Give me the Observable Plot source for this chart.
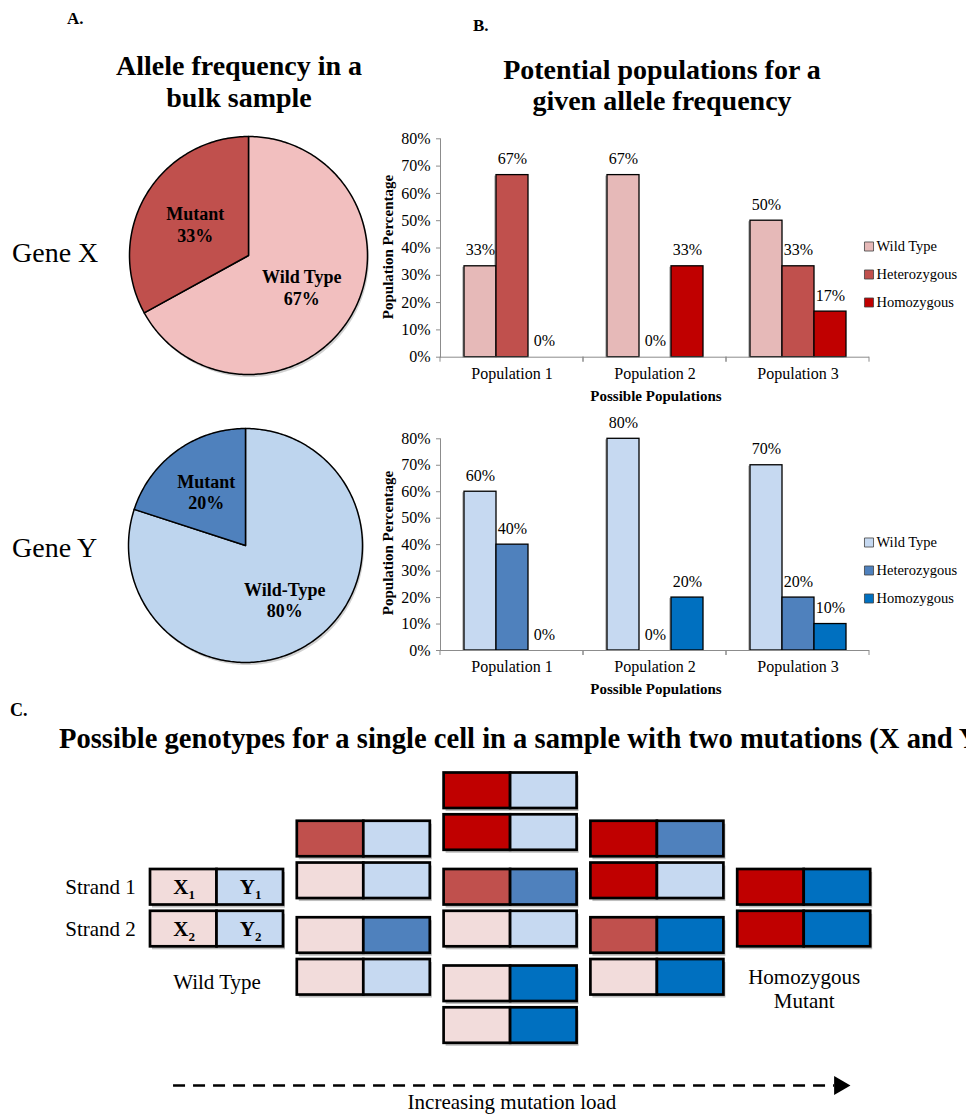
<!DOCTYPE html>
<html><head><meta charset="utf-8">
<script src="https://cdn.jsdelivr.net/npm/d3@7"></script>
<script src="https://cdn.jsdelivr.net/npm/@observablehq/plot@0.6"></script>
<style>
html,body{margin:0;padding:0;background:#fff;}
body{width:966px;height:1115px;position:relative;overflow:hidden;font-family:"Liberation Serif","Times New Roman",serif;color:#000;}
.t{position:absolute;white-space:nowrap;line-height:1;}
.box{position:absolute;}
svg text{fill:#000;}
</style></head><body>
<script>
// ---------- Data ----------
const pieXSlices = ["Wild Type", "Mutant"];
const pieXValues = [67, 33];
const pieXColors = ["#F2BFBF", "#C0504D"];
const pieYSlices = ["Wild-Type", "Mutant"];
const pieYValues = [80, 20];
const pieYColors = ["#BED5EE", "#4F81BD"];

const populations = ["Population 1", "Population 2", "Population 3"];
const genotypes = ["Wild Type", "Heterozygous", "Homozygous"];
// per population: [Wild Type, Heterozygous, Homozygous] in %
const geneXBarValues = [[33.3, 66.7, 0], [66.7, 0, 33.3], [50, 33.3, 16.7]];
const geneYBarValues = [[60, 40, 0], [80, 0, 20], [70, 20, 10]];
const geneXBarColors = ["#E6B9B8", "#C0504D", "#C00000"];
const geneYBarColors = ["#C6D9F1", "#4F81BD", "#0070C0"];
const yTicks = [0, 0.1, 0.2, 0.3, 0.4, 0.5, 0.6, 0.7, 0.8];

// Panel C: allele states per cell
const cellStates = ["X-WT", "X-Het", "X-Hom", "Y-WT", "Y-Het", "Y-Hom"];
const cellColors = ["#F2DCDB", "#C0504D", "#C00000", "#C6D9F1", "#4F81BD", "#0070C0"];
// columns -> pairs -> strands -> [X state, Y state]
const genotypeColumns = [
  [[["X-WT", "Y-WT"], ["X-WT", "Y-WT"]]],
  [[["X-Het", "Y-WT"], ["X-WT", "Y-WT"]], [["X-WT", "Y-Het"], ["X-WT", "Y-WT"]]],
  [[["X-Hom", "Y-WT"], ["X-Hom", "Y-WT"]], [["X-Het", "Y-Het"], ["X-WT", "Y-WT"]], [["X-WT", "Y-Hom"], ["X-WT", "Y-Hom"]]],
  [[["X-Hom", "Y-Het"], ["X-Hom", "Y-WT"]], [["X-Het", "Y-Hom"], ["X-WT", "Y-Hom"]]],
  [[["X-Hom", "Y-Hom"], ["X-Hom", "Y-Hom"]]]
];
const strandLabels = ["Strand 1", "Strand 2"];
const alleleLetters = ["X", "Y"];

// ---------- helpers ----------
function addText(str, x, baseline, size, o = {}) {
  const d = document.createElement("div");
  d.className = "t";
  d.textContent = str;
  d.style.fontSize = size + "px";
  d.style.fontWeight = o.weight || "normal";
  d.style.left = x + "px";
  d.style.top = (baseline - 0.8375 * size) + "px";
  d.style.transform = o.anchor === "middle" ? "translateX(-50%)" : o.anchor === "end" ? "translateX(-100%)" : "";
  document.body.appendChild(d);
  return d;
}
function addRotated(str, cx, cy, size, weight) {
  const d = document.createElement("div");
  d.className = "t";
  d.textContent = str;
  d.style.fontSize = size + "px";
  d.style.fontWeight = weight;
  d.style.left = cx + "px";
  d.style.top = cy + "px";
  d.style.transform = "translate(-50%,-50%) rotate(-90deg)";
  document.body.appendChild(d);
}
function place(node, left, top, w) {
  const d = document.createElement("div");
  d.className = "box";
  d.style.left = left + "px";
  d.style.top = top + "px";
  d.style.width = w + "px";
  d.appendChild(node);
  document.body.appendChild(d);
}
const baseStyle = {fontFamily: '"Liberation Serif", "Times New Roman", serif', background: "transparent", maxWidth: "none", overflow: "visible"};

// ---------- Pies ----------
function pie(labels, values, colors, r, labelR) {
  const total = d3.sum(values);
  let a = 0;
  const slices = [], labelPts = [];
  labels.forEach((lab, i) => {
    const a0 = a, a1 = a + values[i] / total * 2 * Math.PI;
    a = a1;
    const pts = [{x: 0, y: 0}];
    const n = Math.max(2, Math.ceil((a1 - a0) / (Math.PI / 180)));
    for (let k = 0; k <= n; k++) {
      const t = a0 + (a1 - a0) * k / n;
      pts.push({x: Math.sin(t), y: Math.cos(t)});
    }
    pts.push({x: 0, y: 0});
    slices.push({pts, color: colors[i]});
    const m = (a0 + a1) / 2;
    labelPts.push({text: `${lab}\n${values[i]}%`, x: labelR * Math.sin(m), y: labelR * Math.cos(m)});
  });
  const half = 130 / r;
  return Plot.plot({
    width: 260, height: 260, margin: 0,
    style: baseStyle,
    x: {domain: [-half, half], axis: null},
    y: {domain: [-half, half], axis: null},
    marks: [
      ...slices.map(s => Plot.line(s.pts, {x: "x", y: "y", fill: "#000", fillOpacity: 0.18, stroke: "none", dx: 1.5, dy: 2.5})),
      ...slices.map(s => Plot.line(s.pts, {x: "x", y: "y", fill: s.color, stroke: "#000", strokeWidth: 1.5})),
      Plot.text(labelPts, {x: "x", y: "y", text: "text", fontSize: 18, fontWeight: "bold", lineHeight: 1.2})
    ]
  });
}

// ---------- Bar charts ----------
function bandTicks(index, scales) {
  try {
    const [r0, r1] = scales.x.range();
    const y0 = scales.y(0);
    const p = document.createElementNS("http://www.w3.org/2000/svg", "path");
    p.setAttribute("d", `M${r0},${y0}v5M${r1},${y0}v5`);
    p.setAttribute("stroke", "#8c8c8c");
    p.setAttribute("fill", "none");
    return p;
  } catch (e) { return null; }
}
function barChart(values, colors, mt, mb) {
  const data = [];
  populations.forEach((p, i) => genotypes.forEach((g, j) => data.push({population: p, genotype: g, value: values[i][j] / 100})));
  return Plot.plot({
    width: 500, height: 290, marginLeft: 70, marginRight: 1, marginTop: mt, marginBottom: mb,
    style: {...baseStyle, fontSize: "16px", color: "#8c8c8c"},
    fx: {domain: populations, padding: 0, label: null, tickSize: 0, tickPadding: 10, axis: "bottom"},
    x: {domain: genotypes, paddingInner: 0, paddingOuter: 0.71, axis: null},
    y: {domain: [0, 0.8], ticks: yTicks, tickFormat: ".0%", tickSize: 4, tickPadding: 6, line: true, label: null},
    color: {domain: genotypes, range: colors},
    marks: [
      Plot.barY(data, {fx: "population", x: "genotype", y: "value", fill: "#000", fillOpacity: 0.22, dx: -2, dy: 1}),
      Plot.barY(data, {fx: "population", x: "genotype", y: "value", fill: "genotype", stroke: "#000", strokeWidth: 1.3}),
      Plot.text(data, {fx: "population", x: "genotype", y: "value", text: d => Math.round(d.value * 100) + "%", dy: -16, fontSize: 16}),
      Plot.ruleY([0], {stroke: "#8c8c8c"}),
      bandTicks
    ]
  });
}
function legend(colors) {
  return Plot.plot({
    width: 111, height: 86, margin: 0,
    style: {...baseStyle, fontSize: "14.5px"},
    y: {type: "point", domain: genotypes, range: [0, 86], padding: 0.5, axis: null},
    color: {domain: genotypes, range: colors},
    marks: [
      Plot.dot(genotypes, {y: d => d, fill: d => d, symbol: "square", r: 5.1, stroke: "#404040", strokeWidth: 0.8, frameAnchor: "left", dx: 13.5}),
      Plot.text(genotypes, {y: d => d, text: d => d, frameAnchor: "left", textAnchor: "start", dx: 21, fontSize: 14.5})
    ]
  });
}

// ---------- Panel C ----------
function genotypePanel() {
  const cellW = 0.453, boxH = 0.368, strandStep = 0.433;
  const cells = [];
  genotypeColumns.forEach((pairs, c) => {
    pairs.forEach((strands, p) => {
      const pos = p - (pairs.length - 1) / 2;
      strands.forEach((st, s) => {
        st.forEach((state, k) => {
          const y1 = pos + s * strandStep;
          cells.push({state, x1: c + k * cellW, x2: c + (k + 1) * cellW, y1, y2: y1 + boxH});
        });
      });
    });
  });
  const letters = [], subs = [], strands = [];
  strandLabels.forEach((lab, s) => {
    const yc = s * strandStep + boxH / 2;
    strands.push({text: lab, x: -0.1, y: yc});
    alleleLetters.forEach((L, k) => {
      letters.push({text: L, x: (k + 0.5) * cellW, y: yc});
      subs.push({text: String(s + 1), x: (k + 0.5) * cellW, y: yc});
    });
  });
  const notes = [
    {text: "Wild Type", x: cellW, y: 1.16},
    {text: "Homozygous\nMutant", x: 4 + cellW, y: 1.228},
    {text: "Increasing mutation load", x: 2.4625, y: 2.40}
  ];
  const arrow = [{x1: 0.157, x2: 4.66, y: 2.238}];
  const head = [{x: 4.694, y: 2.238}];
  return Plot.plot({
    width: 966, height: 355, margin: 0,
    style: {...baseStyle, fontSize: "21px"},
    x: {domain: [-150 / 146.8, 816 / 146.8], axis: null},
    y: {domain: [-109 / 96.5, 246 / 96.5], range: [0, 355], axis: null},
    color: {domain: cellStates, range: cellColors},
    marks: [
      Plot.rect(cells, {x1: "x1", x2: "x2", y1: "y1", y2: "y2", fill: "#000", fillOpacity: 0.25, dx: 2, dy: 3}),
      Plot.rect(cells, {x1: "x1", x2: "x2", y1: "y1", y2: "y2", fill: "state", stroke: "#000", strokeWidth: 2.7}),
      Plot.text(letters, {x: "x", y: "y", text: "text", fontSize: 21, fontWeight: "bold", dx: -3}),
      Plot.text(subs, {x: "x", y: "y", text: "text", fontSize: 13, fontWeight: "bold", dx: 8, dy: 8}),
      Plot.text(strands, {x: "x", y: "y", text: "text", fontSize: 21, textAnchor: "end"}),
      Plot.text(notes, {x: "x", y: "y", text: "text", fontSize: 21, lineHeight: 1.19}),
      Plot.ruleY(arrow, {y: "y", x1: "x1", x2: "x2", stroke: "#000", strokeWidth: 2.6, strokeDasharray: "12 8"}),
      Plot.dot(head, {x: "x", y: "y", symbol: "triangle", r: 7, rotate: 90, fill: "#000", stroke: "none"})
    ]
  });
}

// ---------- Layout ----------
addText("A.", 67, 24, 17, {weight: "bold"});
addText("Allele frequency in a", 239, 75, 28, {weight: "bold", anchor: "middle"});
addText("bulk sample", 239, 107, 28, {weight: "bold", anchor: "middle"});
addText("B.", 473, 31, 17, {weight: "bold"});
addText("Potential populations for a", 662, 79, 28, {weight: "bold", anchor: "middle"});
addText("given allele frequency", 662, 110, 28, {weight: "bold", anchor: "middle"});
addText("Gene X", 12, 262, 28);
addText("Gene Y", 12, 557, 28);

place(pie(pieXSlices, pieXValues, pieXColors, 119, 0.52), 118, 125, 260);
place(pie(pieYSlices, pieYValues, pieYColors, 117, 0.57), 115, 415, 260);

place(barChart(geneXBarValues, geneXBarColors, 18.3, 53.3), 370, 120, 500);
place(barChart(geneYBarValues, geneYBarColors, 18.3, 60), 370, 420, 500);
place(legend(geneXBarColors), 855, 230.7, 111);
place(legend(geneYBarColors), 855, 527.4, 111);
addRotated("Population Percentage", 388, 247, 15, "bold");
addRotated("Population Percentage", 388, 543, 15, "bold");
addText("Possible Populations", 656, 402, 15, {weight: "bold", anchor: "middle"});
addText("Possible Populations", 656, 695, 15, {weight: "bold", anchor: "middle"});

addText("C.", 10, 716, 18, {weight: "bold"});
place(genotypePanel(), 0, 760, 966);

// condensed panel C title
(function () {
  const probe = addText("Possible genotypes for a single cell", 0, -100, 30, {weight: "bold"});
  const w = probe.getBoundingClientRect().width;
  probe.remove();
  const s = 416 / w;
  const d = addText("Possible genotypes for a single cell in a sample with two mutations (X and Y)", 59, 748, 30, {weight: "bold"});
  d.style.transformOrigin = "0 0";
  d.style.transform = `scaleX(${s})`;
})();
</script>
</body></html>
